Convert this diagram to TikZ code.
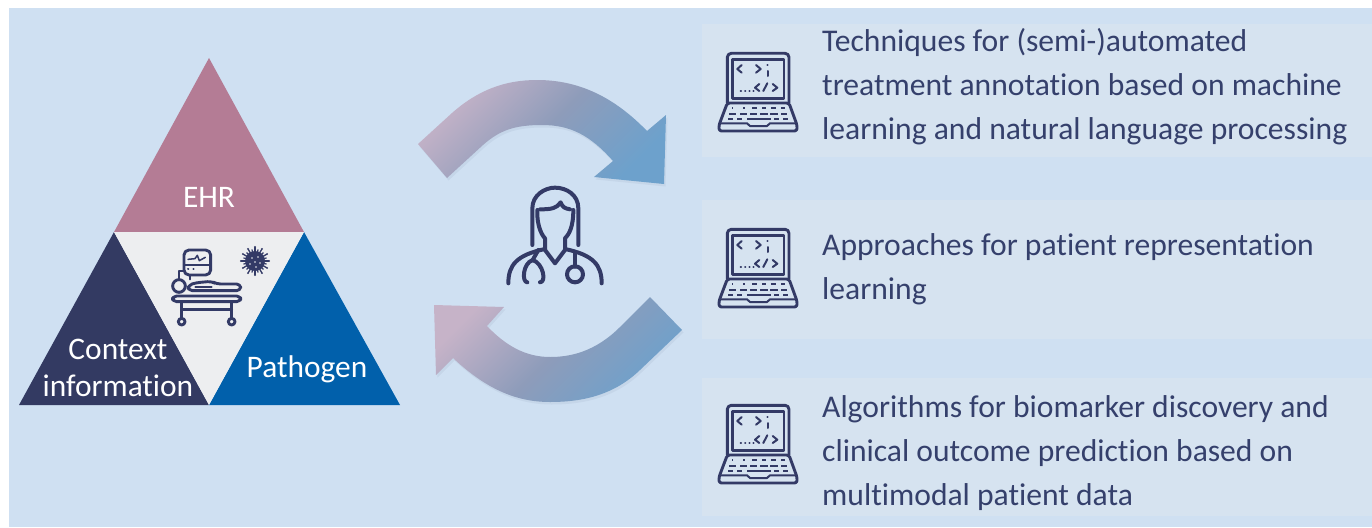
\documentclass[tikz,border=0pt]{standalone}
\usepackage{fontspec}
\setmainfont[Ligatures=NoCommon]{Carlito}
\definecolor{bgblue}{HTML}{CFE0F2}
\definecolor{panel}{HTML}{D6E3F0}
\definecolor{ink}{HTML}{333A66}
\definecolor{txtink}{HTML}{35406C}
\definecolor{ehr}{HTML}{B47C95}
\definecolor{ctx}{HTML}{333A62}
\definecolor{path}{HTML}{0160AB}
\definecolor{mid}{HTML}{EDEEF0}
\definecolor{arrowa}{HTML}{C6B3C8}
\definecolor{arrowm}{HTML}{8E9CBA}
\definecolor{arrowb}{HTML}{6DA1CC}
\tikzset{
 x=1pt,y=-1pt,
 listtext/.style={anchor=north west,inner sep=0pt,text=txtink,font=\fontsize{31.6}{44}\selectfont,align=left},
 trilabel/.style={text=white,font=\fontsize{31.4}{37}\selectfont,align=center,inner sep=0pt},
 icon/.style={draw=ink,line width=2.9pt,line cap=round,line join=round},
 iconfine/.style={draw=ink,line width=2pt,line cap=round,line join=round},
 doctorline/.style={icon,line width=4pt},
 arrowfill/.style={left color=arrowa,right color=arrowb,middle color=arrowm,shading angle=45},
 arrowshadow/.style={fill=ink,fill opacity=.06,shift={(1.5pt,-2.5pt)}},
}
\newcommand{\laptop}[3]{%
 \begin{scope}[shift={(#1,#2)}]
  \coordinate (#3) at (0,0);
  \draw[icon,rounded corners=4pt] (8.3,49)--(8.3,-0.7)--(70,-0.7)--(70,49);
  \draw[icon] (13.3,5.3) rectangle (65,44.3);
  \draw[icon,rounded corners=2.5pt] (8.3,49)--(70,49)--(78,71)--(78,77)--(0,77)--(0,71)--cycle;
  \draw[iconfine] (0.5,69.3)--(28,69.3)--(31,72)--(48,72)--(51,69.3)--(77.7,69.3);
  \draw[iconfine] (22.7,11)--(18.3,15)--(22.7,18.7) (37,11)--(41.7,15)--(37,18.7);
  \draw[iconfine] (48.3,11)--(48.6,11) (49.3,17)--(49.3,22);
  \draw[iconfine] (21.7,37)--(22,37) (26,37)--(26.3,37) (30.3,37)--(30.6,37) (34.3,37)--(34.6,37);
  \draw[iconfine] (40.3,30)--(36,33.7)--(40.3,37) (44.3,37)--(48.3,29.3) (53.7,30)--(58.3,33.7)--(53.7,37);
  \foreach \xa/\xb in {13/14,24/26,33/38,43/47,52/57,62/66} {\draw[iconfine,line width=1.7pt,line cap=butt] (\xa,54.3)--(\xb,54.3);}
  \foreach \xa/\xb in {10/17,21/28,31/38,41/49,51/59,62/68} {\draw[iconfine,line width=1.7pt,line cap=butt] (\xa,59.7)--(\xb,59.7);}
  \foreach \xa/\xb in {9/14,18/23,28/52,55/60,64/69} {\draw[iconfine,line width=1.7pt,line cap=butt] (\xa,64.7)--(\xb,64.7);}
 \end{scope}}
\begin{document}
\begin{tikzpicture}
\useasboundingbox (0,0) rectangle (1372,527);
\fill[white] (0,0) rectangle (1372,527);
\fill[bgblue] (9,8) rectangle (1372,527);
% panels
\fill[panel] (702,24) rectangle (1372,157);
\fill[panel] (702,200) rectangle (1372,339);
\fill[panel] (702,378) rectangle (1372,516);
% triangle
\coordinate (apex) at (209,58);
\coordinate (bl) at (19,405);
\coordinate (br) at (400,405);
\coordinate (ml) at (114,232);
\coordinate (mr) at (304,232);
\coordinate (mb) at (209,405);
\fill[ehr] (apex)--(mr)--(ml)--cycle;
\fill[ctx] (ml)--(mb)--(bl)--cycle;
\fill[path] (mr)--(br)--(mb)--cycle;
\fill[mid] (ml)--(mr)--(mb)--cycle;
\node[trilabel] (ehrlabel) at (209,197) {EHR};
\node[trilabel] (ctxlabel) at (118,367.5) {Context\\information};
\node[trilabel] (pathlabel) at (307,369) {Pathogen};
% bed icon
\begin{scope}[shift={(130,220)},x=0.3333pt,y=-0.3333pt]
 \draw[icon,rounded corners=5pt] (162,90) rectangle (242,165);
 \draw[iconfine] (162,135)--(242,135);
 \draw[iconfine,line width=1.5pt] (174,118)--(195,116)--(202,106)--(208,122)--(226,112);
 \draw[iconfine] (174,148)--(175,148) (190,148)--(191,148);
 \draw[iconfine] (162,152)--(147,152)--(147,178);
 \draw[iconfine] (200,165)--(180,165)--(180,178);
 \draw[icon] (147,198) circle [radius=19];
 \draw[icon,rounded corners=4pt] (175,212)--(175,195)--(200,188)--(245,184)--(260,192)--(332,192)--(332,212)--cycle;
 \draw[iconfine] (196,200)--(245,200);
 \draw[icon,rounded corners=4pt] (128,228) rectangle (332,245);
 \draw[icon] (155,245)--(155,295) (305,245)--(305,295) (155,268)--(305,268);
 \draw[icon] (155,305) circle [radius=10] (305,305) circle [radius=10];
\end{scope}
% virus
\begin{scope}[shift={(255,261)}]
 \fill[ink] (0,0) circle [radius=10];
 \foreach \a in {0,30,...,330} {
  \draw[ink,line width=1.3pt,line cap=round] (\a:8)--(\a:13.5);
  \fill[ink] (\a:14) circle [radius=1.1];
 }
 \foreach \a in {15,45,...,345} {\draw[ink,line width=1.2pt] (\a:8)--(\a:12);}
 \foreach \p in {(-3,-3),(3,-4),(0,1),(5,2),(-5,3),(1,6)} {\fill[mid] \p circle [radius=.9];}
\end{scope}
% arrows
\fill[arrowshadow] (418,144) -- (452,113) .. controls (478,90) and (505,80) .. (537,80) .. controls (580,80) and (615,98) .. (647,131) -- (666,115) -- (664,184) -- (594,177) -- (613,161) .. controls (590,135) and (570,125) .. (542,125) .. controls (515,125) and (500,130) .. (483,145) -- (447,178) -- cycle;
\fill[arrowshadow] (434,305) -- (504,307) -- (487,326) .. controls (505,345) and (525,357) .. (550,357) .. controls (570,357) and (595,352) .. (620,327) -- (650,297) -- (682,330) -- (640,370) .. controls (615,394) and (585,402) .. (550,402) .. controls (515,402) and (485,388) .. (453,358) -- (436,375) -- cycle;
\shade[arrowfill] (418,144) -- (452,113) .. controls (478,90) and (505,80) .. (537,80) .. controls (580,80) and (615,98) .. (647,131) -- (666,115) -- (664,184) -- (594,177) -- (613,161) .. controls (590,135) and (570,125) .. (542,125) .. controls (515,125) and (500,130) .. (483,145) -- (447,178) -- cycle;
\shade[arrowfill] (434,305) -- (504,307) -- (487,326) .. controls (505,345) and (525,357) .. (550,357) .. controls (570,357) and (595,352) .. (620,327) -- (650,297) -- (682,330) -- (640,370) .. controls (615,394) and (585,402) .. (550,402) .. controls (515,402) and (485,388) .. (453,358) -- (436,375) -- cycle;
% doctor
\begin{scope}[shift={(490,175)},x=0.3333pt,y=-0.3333pt]
 \draw[doctorline] (127,210) -- (127,100) .. controls (127,60) and (165,38) .. (195,38)
  .. controls (230,38) and (265,60) .. (265,100) -- (265,210);
 \draw[doctorline] (150,103) .. controls (185,103) and (200,100) .. (212,82) .. controls (218,98) and (225,100) .. (240,103);
 \draw[doctorline] (142,105) .. controls (140,160) and (160,185) .. (165,190) -- (165,225) -- (195,265) -- (225,225) -- (225,190)
   .. controls (235,180) and (250,160) .. (250,105);
 \draw[doctorline] (55,325) .. controls (55,270) and (80,240) .. (165,222);
 \draw[doctorline] (225,222) .. controls (310,240) and (335,270) .. (335,325);
 \draw[doctorline] (112,322) .. controls (95,322) and (98,265) .. (128,255) -- (145,225);
 \draw[doctorline] (128,255) .. controls (160,265) and (170,322) .. (150,322);
 \draw[doctorline] (255,235) -- (255,275);
 \draw[doctorline] (255,298) circle [radius=24];
\end{scope}
% laptops
\laptop{719}{54}{lapa}
\laptop{719}{230}{lapb}
\laptop{719}{406}{lapc}
% text
\node[listtext] (ta) at (822,28) {Techniques for (semi-)automated\\treatment annotation based on machine\\learning and natural language processing};
\node[listtext] (tb) at (822,233) {Approaches for patient representation\\learning};
\node[listtext] (tc) at (822,395) {Algorithms for biomarker discovery and\\clinical outcome prediction based on\\multimodal patient data};
\end{tikzpicture}
\end{document}
